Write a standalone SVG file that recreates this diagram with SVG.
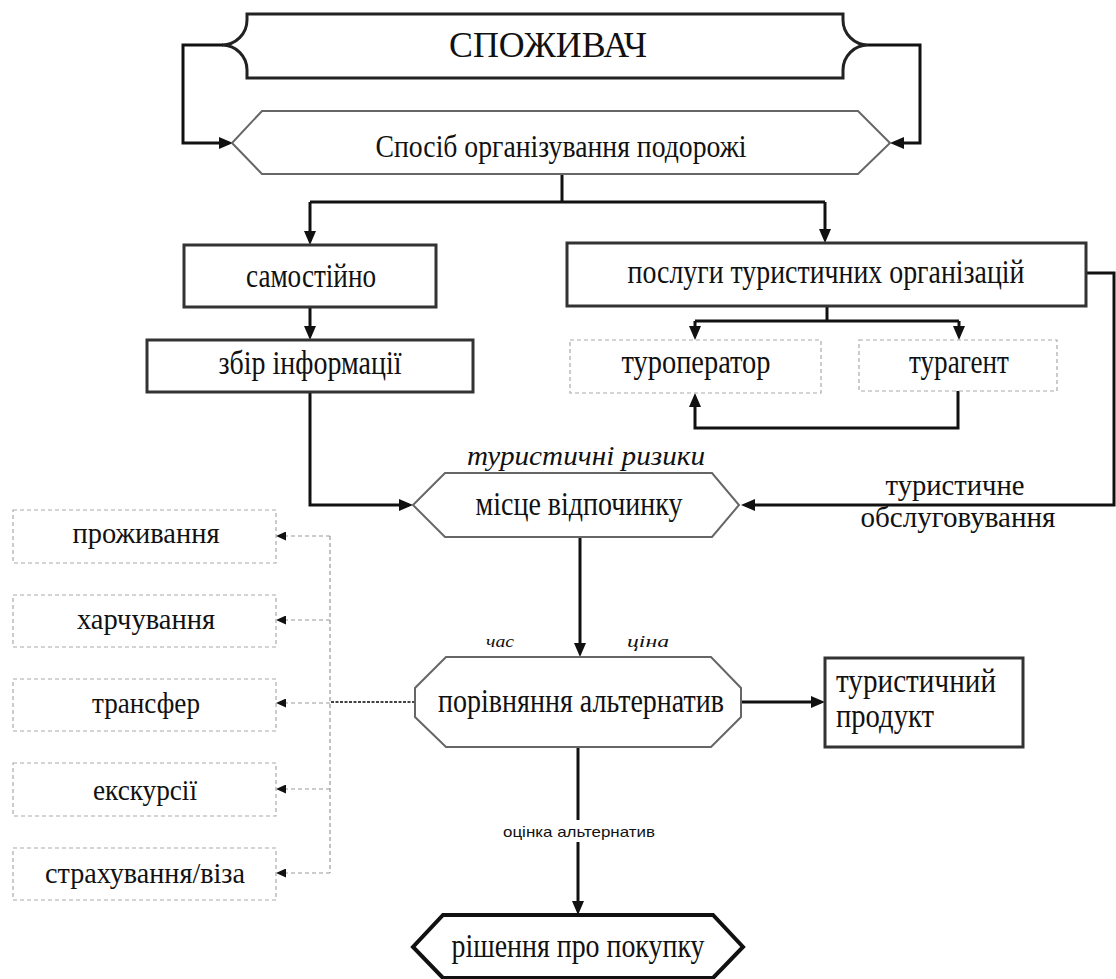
<svg xmlns="http://www.w3.org/2000/svg" width="1116" height="979" viewBox="0 0 1116 979">
  <style>
    .bg { fill: #ffffff; }
    .txt { font-family: "Liberation Serif", "Times New Roman", serif; fill: #111; text-anchor: middle; }
    .it { font-style: italic; }
    .sans { font-family: "Liberation Sans", Arial, sans-serif; fill: #111; text-anchor: middle; }
    .brace { fill: #fff; stroke: #222; stroke-width: 3; }
    .hex { fill: #fff; stroke: #666; stroke-width: 2; stroke-linejoin: miter; }
    .hexbold { fill: #fff; stroke: #111; stroke-width: 4; }
    .box { fill: #fff; stroke: #333; stroke-width: 3; }
    .dbox { fill: #fff; stroke: #aaa; stroke-width: 1.2; stroke-dasharray: 4 3; }
    .conn { fill: none; stroke: #111; stroke-width: 3; }
    .dconn { fill: none; stroke: #999; stroke-width: 1.2; stroke-dasharray: 4 3; }
    .dotconn { fill: none; stroke: #444; stroke-width: 2; stroke-dasharray: 3 1.5; }
  </style>
  <defs>
    <marker id="arr" markerUnits="userSpaceOnUse" markerWidth="14" markerHeight="12" refX="10" refY="6" orient="auto">
      <path d="M0,0 L14,6 L0,12 Z" fill="#111"/>
    </marker>
    <marker id="arrS" markerUnits="userSpaceOnUse" markerWidth="10" markerHeight="9" refX="7" refY="4.5" orient="auto">
      <path d="M0,0 L10,4.5 L0,9 Z" fill="#111"/>
    </marker>
  </defs>

  <rect class="bg" x="0" y="0" width="1116" height="979"/>

  <!-- connectors -->
  <g id="connectors">
    <path class="conn" d="M223,45 H183 V143 H229" marker-end="url(#arr)"/>
    <path class="conn" d="M868,45 H920 V143 H894" marker-end="url(#arr)"/>
    <path class="conn" d="M562,174 V202"/>
    <path class="conn" d="M310,202 H825"/>
    <path class="conn" d="M310,202 V241" marker-end="url(#arr)"/>
    <path class="conn" d="M825,202 V239" marker-end="url(#arr)"/>
    <path class="conn" d="M310,307 V336" marker-end="url(#arr)"/>
    <path class="conn" d="M310,392 V505 H409" marker-end="url(#arr)"/>
    <path class="conn" d="M827,306 V321"/>
    <path class="conn" d="M695,321 H959"/>
    <path class="conn" d="M695,321 V336" marker-end="url(#arr)"/>
    <path class="conn" d="M959,321 V336" marker-end="url(#arr)"/>
    <path class="conn" d="M958,391 V428 H695 V397" marker-end="url(#arr)"/>
    <path class="conn" d="M1086,273 H1114 V505 H745" marker-end="url(#arr)"/>
    <path class="conn" d="M580,537 V653" marker-end="url(#arr)"/>
    <path class="conn" d="M741,702 H821" marker-end="url(#arr)"/>
    <path class="conn" d="M578,747 V911" marker-end="url(#arr)"/>
    <path class="dotconn" d="M415,702 H330"/>
    <path class="dconn" d="M330,536 V873"/>
    <path class="dconn" d="M330,536 H279" marker-end="url(#arrS)"/>
    <path class="dconn" d="M330,620 H279" marker-end="url(#arrS)"/>
    <path class="dconn" d="M330,703 H279" marker-end="url(#arrS)"/>
    <path class="dconn" d="M330,789 H279" marker-end="url(#arrS)"/>
    <path class="dconn" d="M330,873 H279" marker-end="url(#arrS)"/>
    <!-- edge labels -->
    <rect x="500" y="820" width="158" height="22" fill="#fff"/>
    <text class="sans" x="579" y="837" font-size="15" textLength="152" lengthAdjust="spacingAndGlyphs">оцінка альтернатив</text>
    <text class="txt it" x="586" y="465" font-size="28" textLength="238" lengthAdjust="spacingAndGlyphs">туристичні ризики</text>
    <text class="txt it" x="500" y="647" font-size="16" textLength="28" lengthAdjust="spacingAndGlyphs">час</text>
    <text class="txt it" x="648" y="647" font-size="16" textLength="42" lengthAdjust="spacingAndGlyphs">ціна</text>
    <text class="txt" x="955" y="495" font-size="30" textLength="139" lengthAdjust="spacingAndGlyphs">туристичне</text>
    <text class="txt" x="958" y="527" font-size="30" textLength="195" lengthAdjust="spacingAndGlyphs">обслуговування</text>
  </g>

  <g id="consumer">
    <path class="brace" d="M247,14 H843 V20 A25,25 0 0 0 868,45 A25,25 0 0 0 843,70 V78 H247 V70 A25,25 0 0 0 222,45 A25,25 0 0 0 247,20 Z"/>
    <text class="txt" x="548" y="57" font-size="35" textLength="198" lengthAdjust="spacingAndGlyphs">СПОЖИВАЧ</text>
  </g>

  <g id="travel-mode">
    <path class="hex" d="M262,111 H858 L890,143 L858,174 H262 L232,143 Z"/>
    <text class="txt" x="561" y="157" font-size="32" textLength="371" lengthAdjust="spacingAndGlyphs">Спосіб організування подорожі</text>
  </g>

  <g id="independent">
    <rect class="box" x="184" y="245" width="252" height="62"/>
    <text class="txt" x="311" y="287" font-size="33" textLength="130" lengthAdjust="spacingAndGlyphs">самостійно</text>
  </g>

  <g id="info">
    <rect class="box" x="147" y="340" width="326" height="52"/>
    <text class="txt" x="310" y="374" font-size="33" textLength="183" lengthAdjust="spacingAndGlyphs">збір інформації</text>
  </g>

  <g id="services">
    <rect class="box" x="567" y="243" width="519" height="63"/>
    <text class="txt" x="826" y="283" font-size="33" textLength="397" lengthAdjust="spacingAndGlyphs">послуги туристичних  організацій</text>
  </g>

  <g id="operator">
    <rect class="dbox" x="570" y="340" width="251" height="53"/>
    <text class="txt" x="696" y="373" font-size="33" textLength="149" lengthAdjust="spacingAndGlyphs">туроператор</text>
  </g>

  <g id="agent">
    <rect class="dbox" x="859" y="340" width="198" height="51"/>
    <text class="txt" x="959" y="373" font-size="33" textLength="100" lengthAdjust="spacingAndGlyphs">турагент</text>
  </g>

  <g id="destination">
    <path class="hex" d="M445,473 H712 L739,505 L712,537 H445 L413,505 Z"/>
    <text class="txt" x="579" y="515" font-size="33" textLength="207" lengthAdjust="spacingAndGlyphs">місце відпочинку</text>
  </g>

  <g id="compare">
    <path class="hex" d="M446,657 H711 L741,688 V717 L711,747 H446 L415,717 V688 Z"/>
    <text class="txt" x="581" y="712" font-size="33" textLength="286" lengthAdjust="spacingAndGlyphs">порівняння альтернатив</text>
  </g>

  <g id="product">
    <rect class="box" x="825" y="658" width="198" height="89"/>
    <text class="txt" x="916" y="692" font-size="33" textLength="160" lengthAdjust="spacingAndGlyphs">туристичний</text>
    <text class="txt" x="885" y="727" font-size="33" textLength="98" lengthAdjust="spacingAndGlyphs">продукт</text>
  </g>

  <g id="decision">
    <path class="hexbold" d="M443,915 H713 L743,947 L713,978 H443 L413,947 Z"/>
    <text class="txt" x="578" y="957" font-size="33" textLength="253" lengthAdjust="spacingAndGlyphs">рішення про покупку</text>
  </g>

  <g id="accommodation">
    <rect class="dbox" x="13" y="510" width="263" height="53"/>
    <text class="txt" x="146" y="543" font-size="30" textLength="147" lengthAdjust="spacingAndGlyphs">проживання</text>
  </g>

  <g id="food">
    <rect class="dbox" x="13" y="595" width="263" height="52"/>
    <text class="txt" x="146" y="629" font-size="30" textLength="138" lengthAdjust="spacingAndGlyphs">харчування</text>
  </g>

  <g id="transfer">
    <rect class="dbox" x="13" y="679" width="263" height="52"/>
    <text class="txt" x="146" y="713" font-size="30" textLength="108" lengthAdjust="spacingAndGlyphs">трансфер</text>
  </g>

  <g id="excursions">
    <rect class="dbox" x="13" y="763" width="263" height="53"/>
    <text class="txt" x="145" y="800" font-size="30" textLength="104" lengthAdjust="spacingAndGlyphs">екскурсії</text>
  </g>

  <g id="insurance">
    <rect class="dbox" x="13" y="848" width="263" height="52"/>
    <text class="txt" x="145" y="883" font-size="30" textLength="200" lengthAdjust="spacingAndGlyphs">страхування/віза</text>
  </g>
</svg>
